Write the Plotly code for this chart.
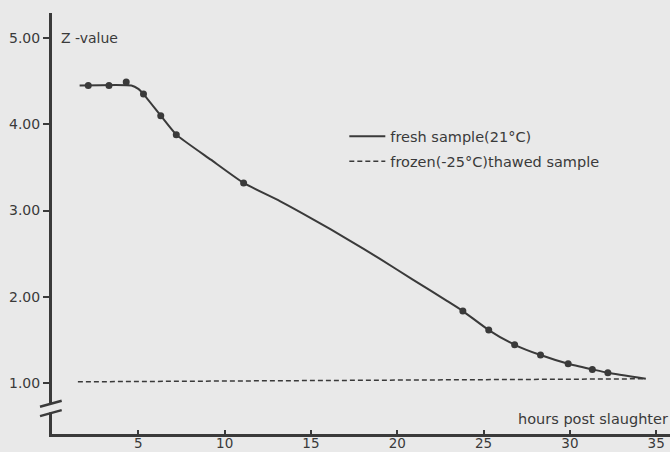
import plotly.graph_objects as go

# fresh sample (21°C) measured points
fresh_x = [2.1, 3.3, 4.3, 5.3, 6.3, 7.2, 11.1, 23.8, 25.3, 26.8, 28.3, 29.9, 31.3, 32.2]
fresh_y = [4.45, 4.45, 4.49, 4.35, 4.10, 3.88, 3.32, 1.835, 1.615, 1.444, 1.325, 1.224, 1.159, 1.119]

# fitted curve for fresh sample
curve_x = [1.6, 4.6, 5.0, 5.3, 6.3, 7.2, 9.2, 11.1, 13.2, 15.2, 17.1, 19.0, 20.9, 22.9, 23.8,
           25.3, 26.8, 28.3, 29.9, 31.3, 32.2, 34.4]
curve_y = [4.45, 4.45, 4.41, 4.35, 4.10, 3.88, 3.59, 3.32, 3.11, 2.89, 2.67, 2.44, 2.20, 1.95, 1.835,
           1.615, 1.444, 1.325, 1.224, 1.159, 1.119, 1.05]

# frozen (-25°C) thawed sample
frozen_x = [1.5, 34.4]
frozen_y = [1.015, 1.05]

x_ticks = [5, 10, 15, 20, 25, 30, 35]
y_ticks = [1, 2, 3, 4, 5]
y_tick_labels = ["1.00", "2.00", "3.00", "4.00", "5.00"]

INK = "#3a3a3a"
BG = "#e9e9e9"
FONT = "DejaVu Sans"

fig = go.Figure()
fig.add_trace(go.Scatter(x=curve_x, y=curve_y, mode="lines", name="fresh sample(21°C)",
                         line=dict(color=INK, width=2, shape="spline", smoothing=0.5),
                         legendgroup="a", hoverinfo="skip"))
fig.add_trace(go.Scatter(x=frozen_x, y=frozen_y, mode="lines", name="frozen(-25°C)thawed sample",
                         line=dict(color=INK, width=1.5, dash="5px,3px"),
                         legendgroup="b", hoverinfo="skip"))
fig.add_trace(go.Scatter(x=fresh_x, y=fresh_y, mode="markers", showlegend=False,
                         marker=dict(color=INK, size=7), hoverinfo="skip"))

fig.update_layout(
    width=670, height=452,
    paper_bgcolor=BG, plot_bgcolor=BG,
    margin=dict(l=52, r=0, t=13, b=18),
    font=dict(family=FONT, size=13, color=INK),
    showlegend=True,
    legend=dict(x=0.473, y=0.745, xanchor="left", yanchor="top", bgcolor="rgba(0,0,0,0)",
                font=dict(size=14.5), tracegroupgap=3, itemwidth=36),
    xaxis=dict(range=[0, 35.8], tickvals=x_ticks, ticks="inside", ticklen=4, tickwidth=1.5,
               tickcolor=INK, showline=True, linewidth=3, linecolor=INK, showgrid=False,
               zeroline=False, tickfont=dict(size=13.5), automargin=False, ticklabelstandoff=-5),
    yaxis=dict(range=[0.41, 5.29], tickvals=y_ticks, ticktext=y_tick_labels, ticks="outside",
               ticklen=6, tickwidth=1.5, tickcolor=INK, showline=True, linewidth=3,
               linecolor=INK, showgrid=False, zeroline=False, tickfont=dict(size=14),
               automargin=False),
    annotations=[
        dict(text="Z -value", xref="paper", yref="y", x=0.012, y=5.0, xanchor="left",
             yanchor="middle", showarrow=False, font=dict(size=14)),
        dict(text="hours post slaughter", xref="paper", yref="paper", x=1.0, y=0.012,
             xanchor="right", yanchor="bottom", showarrow=False, font=dict(size=14.5)),
    ],
    shapes=[
        dict(type="rect", xref="paper", yref="y", x0=-0.01, x1=0.01, y0=0.66, y1=0.76,
             fillcolor=BG, line=dict(width=0), layer="above"),
        dict(type="line", xref="paper", yref="y", x0=-0.0194, x1=0.0157, y0=0.725, y1=0.795,
             line=dict(color=INK, width=2.5), layer="above"),
        dict(type="line", xref="paper", yref="y", x0=-0.0194, x1=0.0157, y0=0.617, y1=0.687,
             line=dict(color=INK, width=2.5), layer="above"),
    ],
)

fig.write_html("out.html", config={"displayModeBar": False},
               post_script="document.body.style.margin='0';document.body.style.padding='0';")
